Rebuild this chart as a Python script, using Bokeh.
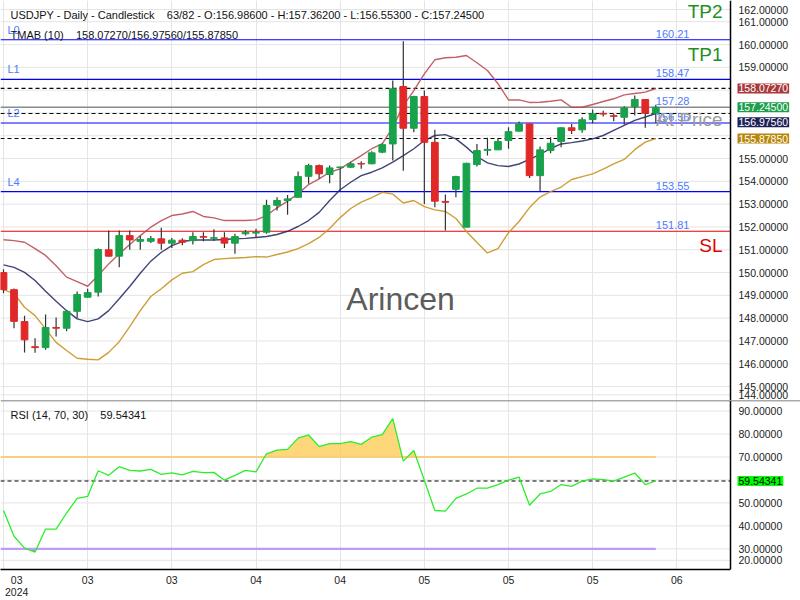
import numpy as np
from bokeh.plotting import figure
from bokeh.models import Range1d, FixedTicker, Span, Label, ColumnDataSource, AllLabels, LinearAxis
from bokeh.layouts import column
from bokeh.embed import file_html
from bokeh.resources import INLINE

# ---------------- data ----------------
symbol = "USDJPY"
bar_pos, bar_total = 63, 82

opens = [150.00, 149.25, 147.85, 146.75, 146.71, 147.59, 147.56, 148.30, 148.92, 149.14,
         151.00, 150.72, 151.62, 151.37, 151.37, 151.48, 151.29, 151.42, 151.40, 151.58,
         151.50, 151.52, 151.29, 151.70, 151.73, 151.77, 152.95, 153.16, 153.30, 154.22,
         154.69, 154.30, 154.60, 154.62, 154.78, 154.77, 155.28, 155.64, 158.16, 156.33,
         157.72, 155.71, 153.12, 153.65, 151.99, 154.74, 155.36, 155.38, 155.79, 156.20,
         156.52, 154.25, 155.35, 155.75, 156.35, 156.26, 156.71, 156.98, 156.88, 156.81,
         157.28, 157.59, 156.986]
highs = [150.15, 149.30, 148.11, 147.12, 148.16, 148.03, 148.33, 149.17, 149.29, 151.05,
         151.84, 151.84, 151.84, 151.60, 151.60, 151.97, 151.52, 151.50, 151.77, 151.77,
         151.90, 151.77, 151.70, 151.87, 151.92, 153.19, 153.30, 153.40, 154.43, 154.77,
         154.74, 154.69, 154.65, 154.84, 154.88, 155.32, 155.67, 158.42, 160.14, 157.75,
         157.98, 156.26, 153.42, 154.25, 154.82, 155.64, 155.91, 155.89, 156.37, 156.62,
         156.55, 155.53, 155.93, 156.37, 156.52, 156.81, 157.15, 157.10, 156.96, 157.29,
         157.76, 157.60, 157.362]
lows = [149.09, 147.56, 146.49, 146.48, 146.61, 147.20, 147.43, 148.00, 148.90, 148.95,
        150.70, 150.23, 151.00, 151.00, 151.30, 151.00, 151.08, 151.20, 151.23, 151.37,
        151.40, 151.08, 150.82, 151.63, 151.55, 151.70, 152.72, 152.54, 153.30, 153.89,
        154.11, 153.92, 153.57, 154.60, 154.55, 154.75, 155.23, 154.91, 154.47, 156.15,
        153.01, 152.86, 151.84, 153.30, 151.99, 154.65, 155.13, 155.38, 155.43, 156.20,
        154.15, 153.57, 155.23, 155.50, 156.08, 156.13, 156.55, 156.84, 156.64, 156.49,
        156.89, 156.35, 156.553]
closes = [149.25, 147.86, 147.05, 146.71, 147.59, 147.56, 148.30, 149.04, 149.12, 151.01,
          150.72, 151.62, 151.43, 151.45, 151.49, 151.29, 151.42, 151.33, 151.58, 151.55,
          151.53, 151.29, 151.58, 151.77, 151.76, 152.94, 153.16, 153.23, 154.21, 154.69,
          154.33, 154.59, 154.63, 154.77, 154.76, 155.25, 155.61, 158.06, 156.33, 157.72,
          155.71, 153.13, 153.08, 154.21, 154.79, 155.35, 155.40, 155.75, 156.18, 156.52,
          154.25, 155.38, 155.67, 156.35, 156.23, 156.70, 156.96, 156.95, 156.85, 157.22,
          157.59, 156.99, 157.245]

tmab_upper = [151.44, 151.40, 151.33, 151.05, 150.75, 150.30, 149.80, 149.60, 149.40, 149.87,
              150.38, 150.82, 151.23, 151.62, 151.99, 152.28, 152.50, 152.57, 152.68, 152.46,
              152.40, 152.28, 152.28, 152.28, 152.31, 152.50, 152.84, 153.13, 153.45, 153.86,
              154.11, 154.40, 154.55, 154.84, 155.13, 155.43, 155.64, 156.37, 157.32, 157.98,
              158.71, 159.33, 159.42, 159.44, 159.52, 159.20, 158.86, 158.28, 157.57, 157.57,
              157.46, 157.47, 157.51, 157.57, 157.25, 157.25, 157.37, 157.50, 157.62, 157.79,
              157.85, 157.91, 158.0727]
tmab_mid = [150.34, 150.23, 150.01, 149.65, 149.18, 148.74, 148.33, 147.97, 147.85, 147.97,
            148.33, 148.85, 149.39, 149.97, 150.50, 150.89, 151.18, 151.36, 151.43, 151.43,
            151.43, 151.45, 151.48, 151.50, 151.54, 151.58, 151.67, 151.81, 152.02, 152.28,
            152.64, 153.16, 153.63, 153.96, 154.25, 154.40, 154.59, 154.84, 155.13, 155.43,
            155.79, 156.01, 156.05, 155.86, 155.50, 155.09, 154.81, 154.69, 154.65, 154.76,
            154.96, 155.18, 155.44, 155.64, 155.70, 155.77, 155.86, 156.01, 156.23, 156.45,
            156.67, 156.82, 156.9756]
tmab_lower = [149.25, 149.08, 148.48, 148.11, 147.53, 146.94, 146.58, 146.24, 146.20, 146.17,
              146.50, 146.97, 147.63, 148.33, 148.95, 149.29, 149.68, 149.97, 150.04, 150.35,
              150.57, 150.61, 150.64, 150.66, 150.70, 150.68, 150.79, 150.90, 151.05, 151.27,
              151.54, 151.93, 152.41, 152.81, 153.09, 153.29, 153.52, 153.44, 153.05, 153.16,
              152.89, 152.75, 152.68, 152.37, 151.80, 151.32, 150.86, 151.05, 151.75, 152.24,
              152.85, 153.31, 153.55, 153.75, 154.08, 154.21, 154.33, 154.54, 154.77, 154.96,
              155.39, 155.72, 155.8785]

rsi = [46.7, 35.5, 30.3, 28.6, 38.6, 38.6, 45.6, 52.0, 52.8, 64.0,
       62.0, 65.8, 64.2, 63.9, 64.6, 62.4, 63.1, 62.2, 63.75, 63.2,
       63.3, 59.9, 62.0, 64.2, 63.5, 71.4, 73.0, 73.3, 78.2, 79.6,
       74.5, 75.8, 75.8, 76.7, 75.5, 78.6, 79.7, 86.7, 68.2, 72.8,
       59.9, 46.7, 46.4, 52.0, 53.9, 56.4, 56.4, 58.0, 59.9, 61.25,
       49.0, 53.9, 55.0, 58.0, 57.2, 59.5, 60.5, 60.1, 59.5, 61.25,
       63.0, 58.0, 59.54341]
rsi_period, rsi_high, rsi_low = 14, 70, 30

x_tick_bars = [0, 8, 16, 24, 32, 40, 48, 56, 64]
x_tick_labels = ["03\n2024", "03", "03", "04", "04", "05", "05", "05", "06"]

price_tick_values = list(range(144, 163))
rsi_tick_values = [20, 30, 40, 50, 60, 70, 80, 90]

level_values = [160.21, 158.47, 157.28, 156.56, 153.55, 151.81]
level_tags = ["L0", "L1", "", "L2", "L4", ""]
target_names = ["TP2", "TP1", "SL"]
target_values = [162.10, 160.21, 151.81]

# ---------------- layout / style ----------------
FONT = "Liberation Sans"
W = 800
H1 = 400
H2 = 200
AXIS_PX = 730                      # x pixel of the price scale line
X0, X1 = -0.285, 69.1              # visible bar span left of the price scale
XEND = X0 + (X1 - X0) * W / AXIS_PX
P_LO, P_HI = 144.39, 161.93
R_LO, R_HI = 21.0, 94.6
GRID = "#e4e4e4"
UP, DOWN = "#18a24b", "#e02828"
C_UPPER, C_MID, C_LOWER = "#b5474b", "#1f2460", "#c99520"
BOX_UPPER, BOX_PRICE, BOX_MID, BOX_LOWER = "#a8393a", "#1c9e4b", "#1d2157", "#b8860b"
LEVEL_TXT = "#4d7bff"
BOX_H = 15


def ref_px_to_bar(px):
    return (px - 3) / 10.52


def ref_py_to_price(py):
    return 160 - (py - 44) / 22.8


def ref_py_to_rsi(py):
    return 70 - (py - 459) / 2.4


def style_axis(ax, standoff):
    ax.axis_line_color = "black"
    ax.axis_line_width = 1.5
    ax.major_tick_line_color = None
    ax.minor_tick_line_color = None
    ax.major_tick_out = 0
    ax.major_tick_in = 0
    ax.minor_tick_out = 0
    ax.minor_tick_in = 0
    ax.axis_label_standoff = 0
    ax.major_label_standoff = standoff
    ax.major_label_text_font = FONT
    ax.major_label_text_font_size = "10.5px"
    ax.major_label_text_color = "#222222"
    ax.major_label_policy = AllLabels()


def hline(fig, ys, **kw):
    ys = np.atleast_1d(np.asarray(ys, dtype=float))
    fig.segment(x0=np.full(len(ys), X0), x1=np.full(len(ys), X1), y0=ys, y1=ys, **kw)


n = len(closes)
idx = np.arange(n)
o = np.array(opens); c = np.array(closes)
hi = np.array(highs); lo = np.array(lows)
last = c[-1]

# ---------------- price panel ----------------
p = figure(width=W, height=H1, x_range=Range1d(X0, XEND), y_range=Range1d(P_LO, P_HI),
           output_backend="svg", toolbar_location=None, x_axis_location=None,
           y_axis_location=None, min_border_left=0, min_border_top=0,
           min_border_bottom=0, min_border_right=0)
p.outline_line_color = None
p.xgrid.ticker = FixedTicker(ticks=x_tick_bars)
p.xgrid.grid_line_color = GRID
p.ygrid.visible = False

box_vals = [tmab_upper[-1], last, tmab_mid[-1], tmab_lower[-1]]
ptick_pos, ptick_lab = [], {}
for v in price_tick_values:
    pos = float(min(max(v, P_LO + 0.25), P_HI - 0.395))
    ptick_pos.append(pos)
    hidden = any(abs(v - b) < 0.5 for b in box_vals)
    ptick_lab[pos] = "" if hidden else f"{v:.5f}"
hline(p, ptick_pos, line_color=GRID, line_width=1)

pax = LinearAxis(fixed_location=X1, ticker=FixedTicker(ticks=ptick_pos),
                 major_label_overrides=ptick_lab)
style_axis(pax, 8)
p.add_layout(pax, "right")

# levels
for lv, tag in zip(level_values, level_tags):
    if lv == target_values[2]:
        col = "#ee0000"
    elif lv == 157.28:
        col = None
    else:
        col = "#0000ff"
    if col:
        hline(p, lv, line_color=col, line_width=1.1)
    p.add_layout(Label(x=n - 1, y=lv, text=f"{lv:.2f}", text_font=FONT, text_font_size="11px",
                       text_color=LEVEL_TXT, text_align="left", text_baseline="bottom", y_offset=2))
    if tag:
        p.add_layout(Label(x=X0, x_offset=7, y=lv, text=tag, text_font=FONT, text_font_size="11px",
                           text_color=LEVEL_TXT, text_align="left", text_baseline="bottom", y_offset=4))

# current price line + dashed TMAB lines
hline(p, last, line_color="#8a8a8a", line_width=1.5)
hline(p, [tmab_upper[-1], tmab_mid[-1], tmab_lower[-1]], line_color="black", line_width=1.2,
      line_dash="4 3")

# bands
p.line(idx, tmab_upper, line_color=C_UPPER, line_width=1.4, line_alpha=0.85)
p.line(idx, tmab_mid, line_color=C_MID, line_width=1.4, line_alpha=0.85)
p.line(idx, tmab_lower, line_color=C_LOWER, line_width=1.4, line_alpha=0.9)

# candles
src = ColumnDataSource(dict(x=idx, top=np.maximum(o, c), bottom=np.minimum(o, c), high=hi, low=lo,
                            color=[UP if cc >= oo else DOWN for oo, cc in zip(o, c)]))
p.segment(x0="x", y0="low", x1="x", y1="high", source=src, line_color="#333333", line_width=1.2)
p.vbar(x="x", width=0.64, top="top", bottom="bottom", source=src, fill_color="color",
       line_color="color", line_width=1)

# texts
header = (f"{symbol} - Daily - Candlestick\u00a0\u00a0\u00a0 {bar_pos}/{bar_total} - "
          f"O:{opens[-1]:.5f} - H:{highs[-1]:.5f} - L:{lows[-1]:.5f} - C:{closes[-1]:.5f}")
p.add_layout(Label(x=ref_px_to_bar(10), y=ref_py_to_price(14), text=header, text_font=FONT,
                   text_font_size="11px", text_color="#111111", text_baseline="middle"))
tm = f"TMAB (10)\u00a0\u00a0\u00a0 {tmab_upper[-1]:.5f}/{tmab_mid[-1]:.5f}/{tmab_lower[-1]:.5f}"
p.add_layout(Label(x=ref_px_to_bar(10), y=ref_py_to_price(34), text=tm, text_font=FONT,
                   text_font_size="11px", text_color="#111111", text_baseline="middle"))
p.add_layout(Label(x=ref_px_to_bar(400), y=ref_py_to_price(298), text="Arincen", text_font=FONT,
                   text_font_size="32px", text_color="#5c5c5c", text_align="center",
                   text_baseline="middle"))
for name, tv in zip(target_names, target_values):
    p.add_layout(Label(x=X1, x_offset=-8, y=tv, y_offset=-4, text=name, text_font=FONT,
                       text_font_size="19px", text_color="#e00000" if name == "SL" else "#1f8f1f",
                       text_align="right", text_baseline="top"))
p.add_layout(Label(x=X1, x_offset=-8, y=last, y_offset=-2, text="At Price", text_font=FONT,
                   text_font_size="19px", text_color="#9c9c9c", text_align="right",
                   text_baseline="top"))

# value boxes on the price scale, pushed down when they would overlap
px_per_unit = H1 / (P_HI - P_LO)
prev_px = None
for bv, bc in sorted(zip(box_vals, [BOX_UPPER, BOX_PRICE, BOX_MID, BOX_LOWER]), key=lambda t: -t[0]):
    y_px = (P_HI - bv) * px_per_unit
    if prev_px is not None and y_px - prev_px < BOX_H:
        y_px = prev_px + BOX_H
    shift = y_px - (P_HI - bv) * px_per_unit
    prev_px = y_px
    p.add_layout(Label(x=X1, x_offset=7, y=bv, y_offset=-shift, text=f"{bv:.5f}", text_font=FONT,
                       text_font_size="10.5px", text_color="white", text_align="left",
                       text_baseline="middle", background_fill_color=bc, padding=1))

# ---------------- RSI panel ----------------
r = figure(width=W, height=H2, x_range=p.x_range, y_range=Range1d(R_LO, R_HI),
           output_backend="svg", toolbar_location=None, x_axis_location="below",
           y_axis_location=None, min_border_left=0, min_border_top=0,
           min_border_bottom=0, min_border_right=0)
r.outline_line_color = None
r.ygrid.visible = False
rtick_pos, rtick_lab = [], {}
for v in rsi_tick_values:
    pos = float(max(v, R_LO + 4.0))
    rtick_pos.append(pos)
    rtick_lab[pos] = "" if abs(v - rsi[-1]) < 5 else f"{v:.5f}"
hline(r, rtick_pos, line_color=GRID, line_width=1)
rax = LinearAxis(fixed_location=X1, ticker=FixedTicker(ticks=rtick_pos),
                 major_label_overrides=rtick_lab)
style_axis(rax, 8)
r.add_layout(rax, "right")

xlab_pos = [float(x_tick_bars[0] + 1.25)] + [float(b) for b in x_tick_bars[1:]]
r.xaxis.ticker = FixedTicker(ticks=xlab_pos)
r.xaxis.major_label_overrides = {pos: lab for pos, lab in zip(xlab_pos, x_tick_labels)}
r.xaxis.bounds = (X0, X1)
r.xgrid.ticker = FixedTicker(ticks=x_tick_bars)
r.xgrid.grid_line_color = GRID
style_axis(r.xaxis, 4)
r.xaxis.major_label_text_line_height = 1.0
r.add_layout(Span(location=R_HI, dimension="width", line_color="#555555", line_width=1.5))


def with_crossings(x, y, thr):
    xs, ys = [x[0]], [y[0]]
    for i in range(1, len(x)):
        if (y[i - 1] - thr) * (y[i] - thr) < 0:
            t = (thr - y[i - 1]) / (y[i] - y[i - 1])
            xs.append(x[i - 1] + t * (x[i] - x[i - 1]))
            ys.append(thr)
        xs.append(x[i]); ys.append(y[i])
    return np.array(xs, dtype=float), np.array(ys, dtype=float)


rv = np.array(rsi)
xa, ya = with_crossings(idx.astype(float), rv, rsi_high)
r.varea(x=xa, y1=np.full(len(xa), float(rsi_high)), y2=np.maximum(ya, rsi_high),
        fill_color="#ffc94f", fill_alpha=0.75)
xb, yb = with_crossings(idx.astype(float), rv, rsi_low)
r.varea(x=xb, y1=np.minimum(yb, rsi_low), y2=np.full(len(xb), float(rsi_low)),
        fill_color="#9a7ae8", fill_alpha=0.8)
r.line([X0, n - 1], [rsi_high, rsi_high], line_color="#f8cd7c", line_width=2.2)
r.line([X0, n - 1], [rsi_low, rsi_low], line_color="#bf9af7", line_width=2.2)
hline(r, rsi[-1], line_color="black", line_width=1.2, line_dash="4 3")
r.line(idx, rsi, line_color="#2bee2b", line_width=1.3)
r.add_layout(Label(x=ref_px_to_bar(10), y=ref_py_to_rsi(415),
                   text=f"RSI ({rsi_period}, {rsi_high}, {rsi_low})\u00a0\u00a0\u00a0 {rsi[-1]:.5f}",
                   text_font=FONT, text_font_size="11px", text_color="#111111",
                   text_baseline="middle"))
r.add_layout(Label(x=X1, x_offset=7, y=rsi[-1], text=f"{rsi[-1]:.5f}", text_font=FONT,
                   text_font_size="10.5px", text_color="black", text_align="left",
                   text_baseline="middle", background_fill_color="#00ff00", padding=1))

layout = column(p, r, spacing=0)
open("out.html", "w").write(file_html(layout, INLINE))
